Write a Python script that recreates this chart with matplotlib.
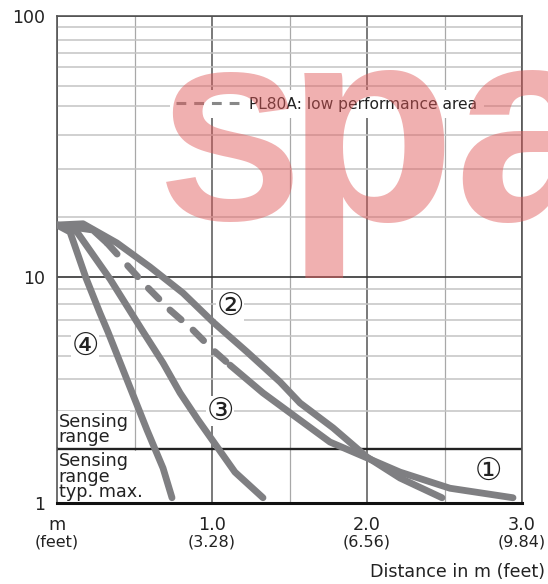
import numpy as np
import matplotlib
matplotlib.use("Agg")
import matplotlib.pyplot as plt
from matplotlib.lines import Line2D
from matplotlib.font_manager import FontProperties, fontManager

# ---------------- data (distance in m, value on log-like axis) ----------------
c1_x = [0, 0.232, 0.323, 0.452, 0.581, 0.729, 0.877, 1.006, 1.116, 1.329, 1.548, 1.761, 2.0, 2.213, 2.535, 2.942]
c1_y = [14.18, 13.71, 12.56, 10.82, 9.18, 7.62, 6.36, 5.28, 4.57, 3.52, 2.79, 2.16, 1.79, 1.49, 1.21, 1.07]
c1_dashed = (2, 8)   # index range of the PL80A low performance (dashed) part

c2_x = [0, 0.168, 0.387, 0.600, 0.813, 1.006, 1.226, 1.439, 1.568, 1.781, 2.0, 2.213, 2.484]
c2_y = [14.18, 14.3, 12.56, 10.68, 8.74, 6.87, 5.19, 3.88, 3.22, 2.51, 1.81, 1.38, 1.07]

c3_x = [0, 0.129, 0.342, 0.548, 0.684, 0.794, 0.910, 1.019, 1.148, 1.329]
c3_y = [14.18, 13.53, 9.81, 6.36, 4.67, 3.52, 2.73, 2.12, 1.49, 1.07]

c4_x = [0, 0.084, 0.187, 0.277, 0.329, 0.452, 0.581, 0.684, 0.742]
c4_y = [14.18, 13.53, 9.89, 7.43, 6.24, 3.95, 2.45, 1.57, 1.07]

curve_labels = ["①", "②", "③", "④"]
label_x = [2.781, 1.116, 1.052, 0.181]
label_y = [1.57, 8.08, 3.08, 5.63]

x_ticks = [0, 1, 2, 3]
x_tick_m = ["m", "1.0", "2.0", "3.0"]
x_tick_ft = ["(feet)", "(3.28)", "(6.56)", "(9.84)"]
y_ticks = [1, 10, 100]
y_tick_labels = ["1", "10", "100"]
sensing_limit = 2

# ---------------- axis scale (grid of the original drawing) ----------------
grid_vals = np.array([1, 2, 3, 4, 5, 6, 7, 8, 9, 10, 15, 20, 30, 40, 50, 60, 70, 80, 90, 100], float)
grid_pix = np.array([503, 449.3, 411, 378.5, 356, 336, 320, 304.3, 289.3, 276.7,
                     216.7, 169, 135.3, 106, 86, 67.3, 53.3, 40.3, 26.7, 16], float)
lv = np.log10(grid_vals)
fr = (503 - grid_pix) / 487.0
s0 = (fr[1] - fr[0]) / (lv[1] - lv[0])
s1 = (fr[-1] - fr[-2]) / (lv[-1] - lv[-2])
lv_e = np.concatenate([[lv[0] - 10], lv, [lv[-1] + 10]])
fr_e = np.concatenate([[fr[0] - 10 * s0], fr, [fr[-1] + 10 * s1]])


def fwd(y):
    y = np.asarray(y, float)
    return np.interp(np.log10(np.clip(y, 1e-12, None)), lv_e, fr_e)


def inv(f):
    f = np.asarray(f, float)
    return 10 ** np.interp(f, fr_e, lv_e)


# ---------------- figure ----------------
fig = plt.figure(figsize=(5.48, 5.84), dpi=100)
ax = fig.add_axes([57 / 548, 1 - 503 / 584, 465 / 548, 487 / 584])
ax.set_yscale("function", functions=(fwd, inv))
ax.set_xlim(0, 3)
ax.set_ylim(1, 100)

ax.set_xticks(x_ticks)
ax.set_xticklabels(x_tick_m, fontsize=12.7, color="#222")
ax.set_xticks([0.5, 1.5, 2.5], minor=True)
ax.set_yticks(y_ticks)
ax.set_yticklabels(y_tick_labels, fontsize=12.5, color="#222")
ax.set_yticks([v for v in grid_vals if v not in (1, 10, 100)], minor=True)
ax.yaxis.set_minor_formatter(matplotlib.ticker.NullFormatter())
ax.tick_params(axis="both", which="both", length=0)
ax.tick_params(axis="x", pad=9)
ax.tick_params(axis="y", pad=8.5)

ax.grid(True, axis="x", which="major", color="#555555", lw=1.1, zorder=0)
ax.grid(True, axis="x", which="minor", color="#a8a8a8", lw=0.9, zorder=0)
ax.grid(True, axis="y", which="major", color="#333333", lw=1.2, zorder=0)
ax.grid(True, axis="y", which="minor", color="#c4c4c4", lw=1.1, zorder=0)
ax.set_axisbelow(True)

for side in ["left", "top", "right"]:
    ax.spines[side].set_color("#555555")
    ax.spines[side].set_linewidth(1.2)
ax.spines["bottom"].set_color("#111111")
ax.spines["bottom"].set_linewidth(2.2)

ax.axhline(sensing_limit, color="#222222", lw=1.7, zorder=1)

for xi, ft in zip(x_ticks, x_tick_ft):
    ax.text(xi, -0.081, ft, transform=ax.get_xaxis_transform(), ha="center", va="center",
            fontsize=11.5, color="#222")

fig.text(545 / 548, 1 - 571.7 / 584, "Distance in m (feet)", ha="right", va="center",
         fontsize=12.6, color="#222")

# sensing range texts
box = dict(facecolor="white", edgecolor="none", pad=1.0)
ax.text(0.011, 2.95, "Sensing\nrange", fontsize=12.7, color="#222", ha="left", va="top",
        linespacing=0.82, bbox=box, zorder=2)
ax.text(0.011, 1.93, "Sensing\nrange\ntyp. max.", fontsize=12.7, color="#222", ha="left", va="top",
        linespacing=0.82, bbox=box, zorder=2)

# curves
col = "#7f7f82"
lw = 4.9
kw = dict(color=col, lw=lw, solid_capstyle="round", solid_joinstyle="round", zorder=4)
ax.plot(c2_x, c2_y, **kw)
ax.plot(c3_x, c3_y, **kw)
ax.plot(c4_x, c4_y, **kw)
a, b = c1_dashed
ax.plot(c1_x[:a + 1], c1_y[:a + 1], **kw)
ax.plot(c1_x[b:], c1_y[b:], **kw)
ax.plot(c1_x[a:b + 1], c1_y[a:b + 1], color=col, lw=lw, dashes=(2.2, 2.3),
        dash_capstyle="round", dash_joinstyle="round", zorder=4)

for t, xx, yy in zip(curve_labels, label_x, label_y):
    ax.text(xx, yy, t, fontsize=22, family=["DejaVu Sans", "Noto Sans CJK JP"], ha="center",
            va="center_baseline", color="#222",
            bbox=dict(facecolor="white", edgecolor="none", pad=0.3), zorder=3)

# legend
h = Line2D([], [], color="#888888", lw=2.2, dashes=(3.2, 2.6))
leg = ax.legend([h], ["PL80A: low performance area"], loc="center left",
                bbox_to_anchor=((170 - 57) / 465, (503 - 104) / 487), borderaxespad=0,
                fontsize=11.2, handlelength=4.2, handletextpad=0.5, borderpad=0.4,
                frameon=True, fancybox=False, framealpha=1, facecolor="white", edgecolor="none")
for tx in leg.get_texts():
    tx.set_color("#222")
leg.set_zorder(5)

# watermark (upright Liberation Sans Bold)
wm_path = None
for f in fontManager.ttflist:
    nm = f.fname.split("/")[-1].lower()
    if f.name == "Liberation Sans" and f.weight in (700, "bold") and "italic" not in nm \
            and "narrow" not in nm and f.style == "normal":
        wm_path = f.fname
        break


def wm_props(size):
    if wm_path:
        return FontProperties(fname=wm_path, size=size)
    return FontProperties(family="DejaVu Sans", weight="bold", size=size * 0.95)


wm_kw = dict(color="#e05a5a", alpha=0.48, ha="left", va="baseline", zorder=100)
fig.text(160 / 548, 1 - 220 / 584, "S", fontproperties=wm_props(152), **wm_kw)
fig.text(286 / 548, 1 - 220 / 584, "pa", fontproperties=wm_props(200), **wm_kw)

fig.savefig("out.png", dpi=100)
